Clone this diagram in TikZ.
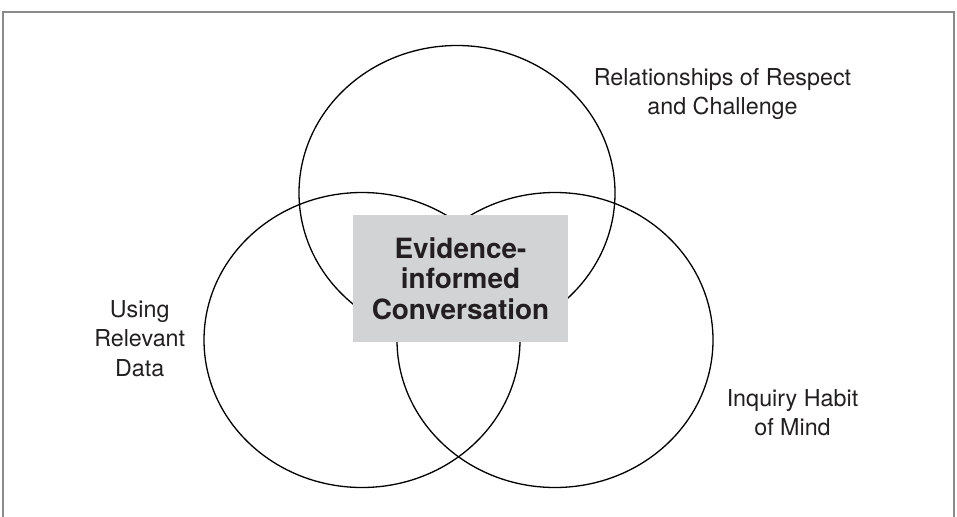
\documentclass[tikz,border=0pt]{standalone}
\usepackage{fontspec}
\setmainfont{TeX Gyre Heros}
\usetikzlibrary{shapes.geometric}
\definecolor{boxgray}{HTML}{D1D3D4}
\definecolor{textdark}{HTML}{231F20}
\definecolor{framegray}{HTML}{8A8A8A}
\tikzset{
  ring/.style={draw=black, line width=1.3pt, shape=ellipse, inner sep=0pt, outer sep=0pt,
    minimum width=316pt, minimum height=295pt},
  label/.style={align=center, inner sep=0pt, text=textdark,
    font=\fontsize{23.3}{29.5}\selectfont},
  centrebox/.style={fill=boxgray, inner sep=0pt, align=center, text=textdark,
    minimum width=215pt, minimum height=127pt,
    font=\bfseries\fontsize{27.9}{30.5}\selectfont}
}
\begin{document}
\begin{tikzpicture}[x=1pt, y=-1pt]
\useasboundingbox (0,0) rectangle (957,516);
% outer frame (open at the bottom)
\coordinate (fbl) at (3,520);
\coordinate (ftl) at (3,12);
\coordinate (ftr) at (954,12);
\coordinate (fbr) at (954,520);
\draw[framegray, line width=1.6pt] (fbl) -- (ftl) -- (ftr) -- (fbr);
% three circles
\node[ring] (top) at (457,193) {};
\node[ring] (left) at (362,340) {};
\node[ring] (right) at (555,340) {};
% central box
\node[centrebox] (centre) at (460.5,278.5) {Evidence-\\informed\\Conversation};
% labels
\node[label] (rel) at (722.5,94.2) {Relationships of Respect\\and Challenge};
\node[label] (data) at (139.7,338.5) {Using\\Relevant\\Data};
\node[label] (inq) at (792.5,412.5) {Inquiry Habit\\of Mind};
\end{tikzpicture}
\end{document}
